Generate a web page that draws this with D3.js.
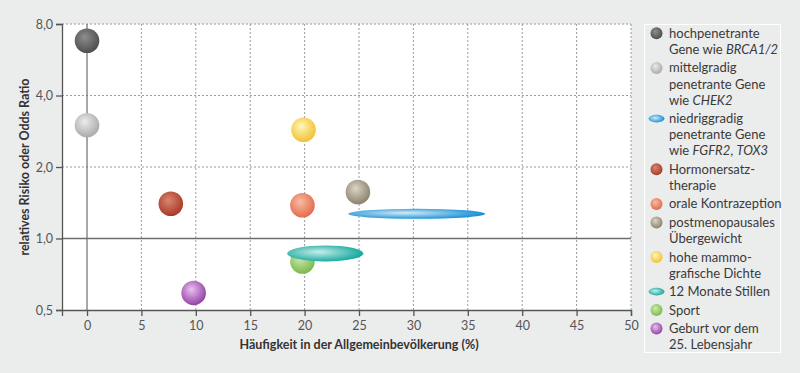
<!DOCTYPE html>
<html lang="de">
<head>
    <meta charset="UTF-8">
    <title>Risikofaktoren Mammakarzinom</title>
    <script src="https://d3js.org/d3.v7.min.js"></script>
    <style>
        body { margin: 0; background: #ebecec; }
        svg { display: block; font-family: Lato, "Open Sans", sans-serif; }
    </style>
</head>
<body>
    <svg></svg>
    <script>
        const width = 800;
        const height = 373;

        // Daten
        const xTicks = [0, 5, 10, 15, 20, 25, 30, 35, 40, 45, 50];
        const yTicks = [0.5, 1, 2, 4, 8];
        const yTickLabels = ['0,5', '1,0', '2,0', '4,0', '8,0'];

        const sphereKeys = ['hoch', 'mittel', 'hormon', 'orale', 'postmeno', 'dichte', 'sport', 'geburt'];
        const sphereX = [0, 0, 7.7, 19.8, 24.9, 19.9, 19.8, 9.8];
        const sphereY = [6.8, 3.0, 1.4, 1.38, 1.57, 2.87, 0.80, 0.59];

        const rangeKeys = ['niedrig', 'stillen'];
        const rangeFrom = [24, 18.4];
        const rangeTo = [36.6, 25.4];
        const rangeY = [1.27, 0.865];

        const legendKeys = ['hoch', 'mittel', 'niedrig', 'hormon', 'orale', 'postmeno', 'dichte', 'stillen', 'sport', 'geburt'];
        // *...* = kursiv
        const legendLines = [
            ['hochpenetrante', 'Gene wie *BRCA1/2*'],
            ['mittelgradig', 'penetrante Gene', 'wie *CHEK2*'],
            ['niedriggradig', 'penetrante Gene', 'wie *FGFR2*, *TOX3*'],
            ['Hormonersatz-', 'therapie'],
            ['orale Kontrazeption'],
            ['postmenopausales', 'Übergewicht'],
            ['hohe mammo-', 'grafische Dichte'],
            ['12 Monate Stillen'],
            ['Sport'],
            ['Geburt vor dem', '25. Lebensjahr']
        ];

        // Farben: [hell, dunkel]
        const colors = {
            hoch: ['#8e8e8e', '#4c4c4c'],
            mittel: ['#ececec', '#a9a9a9'],
            niedrig: ['#d4eaf7', '#1590d6'],
            hormon: ['#d98670', '#a63826'],
            orale: ['#f9bca4', '#e26a4a'],
            postmeno: ['#dcd5c6', '#8a806c'],
            dichte: ['#fff6bc', '#f2c02e'],
            stillen: ['#c6eeea', '#16a89e'],
            sport: ['#cdeaae', '#7ab84a'],
            geburt: ['#ecc0f2', '#9040a2']
        };

        const margin = {left: 62, right: 169, top: 24, bottom: 63};

        const svg = d3.select('svg')
            .attr('width', width)
            .attr('height', height);

        const defs = svg.append('defs');
        Object.keys(colors).forEach(k => {
            const isRange = rangeKeys.includes(k);
            const g = defs.append('radialGradient')
                .attr('id', 'grad-' + k)
                .attr('cx', isRange ? '42%' : '44%')
                .attr('cy', isRange ? '45%' : '40%')
                .attr('r', isRange ? '58%' : '62%')
                .attr('fx', isRange ? '42%' : '40%')
                .attr('fy', isRange ? '40%' : '35%');
            g.append('stop').attr('offset', '0%').attr('stop-color', colors[k][0]);
            g.append('stop').attr('offset', '100%').attr('stop-color', colors[k][1]);
        });

        const x = d3.scaleLinear()
            .domain([-2.3, 50])
            .range([margin.left, width - margin.right]);

        const y = d3.scaleLog()
            .base(2)
            .domain([0.5, 8])
            .range([height - margin.bottom, margin.top]);

        // Plotfläche
        svg.append('rect')
            .attr('x', x(-2.3))
            .attr('y', y(8))
            .attr('width', x(50) - x(-2.3))
            .attr('height', y(0.5) - y(8))
            .attr('fill', '#fff');

        // Gitter
        svg.append('g')
            .selectAll('line')
            .data(xTicks.filter(d => d > 0))
            .join('line')
                .attr('x1', d => x(d))
                .attr('x2', d => x(d))
                .attr('y1', y(8))
                .attr('y2', y(0.5))
                .attr('stroke', '#9a9a9a')
                .attr('stroke-dasharray', '2,2');

        svg.append('g')
            .selectAll('line')
            .data(yTicks.filter(d => d > 1))
            .join('line')
                .attr('x1', x(-2.3))
                .attr('x2', x(50))
                .attr('y1', d => y(d))
                .attr('y2', d => y(d))
                .attr('stroke', '#9a9a9a')
                .attr('stroke-dasharray', '2,2');

        // Referenzlinien
        svg.append('line')
            .attr('x1', x(-2.3)).attr('x2', x(50))
            .attr('y1', y(1)).attr('y2', y(1))
            .attr('stroke', '#6e6e6e')
            .attr('stroke-width', 1.3);

        svg.append('line')
            .attr('x1', x(0)).attr('x2', x(0))
            .attr('y1', y(8)).attr('y2', y(0.5))
            .attr('stroke', '#6e6e6e')
            .attr('stroke-width', 1.2);

        // Achsen
        const xAxis = svg.append('g')
            .attr('transform', `translate(0, ${y(0.5)})`)
            .call(d3.axisBottom(x).tickValues(xTicks).tickSize(6).tickPadding(5));

        const yAxis = svg.append('g')
            .attr('transform', `translate(${x(-2.3)}, 0)`)
            .call(d3.axisLeft(y).tickValues(yTicks).tickFormat((d, i) => yTickLabels[i]).tickSize(6).tickPadding(3));

        [xAxis, yAxis].forEach(a => {
            a.select('.domain').attr('stroke', '#555').attr('stroke-width', 1.3);
            a.selectAll('.tick line').attr('stroke', '#555').attr('stroke-width', 1.3);
            a.selectAll('.tick text')
                .attr('fill', '#555')
                .style('font-size', '12.5px')
                .style('font-family', 'Lato, sans-serif');
        });

        // Achsentitel
        svg.append('text')
            .attr('x', 359)
            .attr('y', 349)
            .attr('text-anchor', 'middle')
            .attr('fill', '#333')
            .style('font-size', '12.5px')
            .style('font-weight', 'bold')
            .text('Häufigkeit in der Allgemeinbevölkerung (%)');

        svg.append('text')
            .attr('transform', `translate(29, ${(y(8) + y(0.5)) / 2}) rotate(-90)`)
            .attr('text-anchor', 'middle')
            .attr('fill', '#333')
            .style('font-size', '12.5px')
            .style('font-weight', 'bold')
            .text('relatives Risiko oder Odds Ratio');

        // Kugeln
        svg.append('g')
            .selectAll('circle')
            .data(sphereKeys)
            .join('circle')
                .attr('cx', (d, i) => x(sphereX[i]))
                .attr('cy', (d, i) => y(sphereY[i]))
                .attr('r', 12.3)
                .attr('fill', d => `url(#grad-${d})`);

        // Bereiche (Ellipsen)
        svg.append('g')
            .selectAll('ellipse')
            .data(rangeKeys)
            .join('ellipse')
                .attr('cx', (d, i) => (x(rangeFrom[i]) + x(rangeTo[i])) / 2)
                .attr('cy', (d, i) => y(rangeY[i]))
                .attr('rx', (d, i) => (x(rangeTo[i]) - x(rangeFrom[i])) / 2)
                .attr('ry', (d, i) => i === 0 ? 5 : 8)
                .attr('fill', d => `url(#grad-${d})`);

        // Legende
        svg.append('rect')
            .attr('x', 644.5)
            .attr('y', 24.5)
            .attr('width', 136)
            .attr('height', 328)
            .attr('fill', 'none')
            .attr('stroke', '#fff')
            .attr('stroke-width', 1);

        const lineH = 16.1;
        const gap = 2.4;
        let ly = 33.3;
        const legend = svg.append('g');
        legendKeys.forEach((k, i) => {
            const item = legend.append('g');
            if (rangeKeys.includes(k)) {
                item.append('ellipse')
                    .attr('cx', 656.5).attr('cy', ly)
                    .attr('rx', 8).attr('ry', 3.8)
                    .attr('fill', `url(#grad-${k})`);
            } else {
                item.append('circle')
                    .attr('cx', 656.5).attr('cy', ly)
                    .attr('r', 6)
                    .attr('fill', `url(#grad-${k})`);
            }
            legendLines[i].forEach((t, j) => {
                const txt = item.append('text')
                    .attr('x', 669)
                    .attr('y', ly + j * lineH)
                    .attr('dy', '0.35em')
                    .attr('fill', '#3a3a3a')
                    .style('font-size', '13px');
                t.split('*').forEach((part, p) => {
                    if (!part) return;
                    txt.append('tspan')
                        .style('font-style', p % 2 ? 'italic' : 'normal')
                        .text(part);
                });
            });
            ly += legendLines[i].length * lineH + gap;
        });
    </script>
</body>
</html>
